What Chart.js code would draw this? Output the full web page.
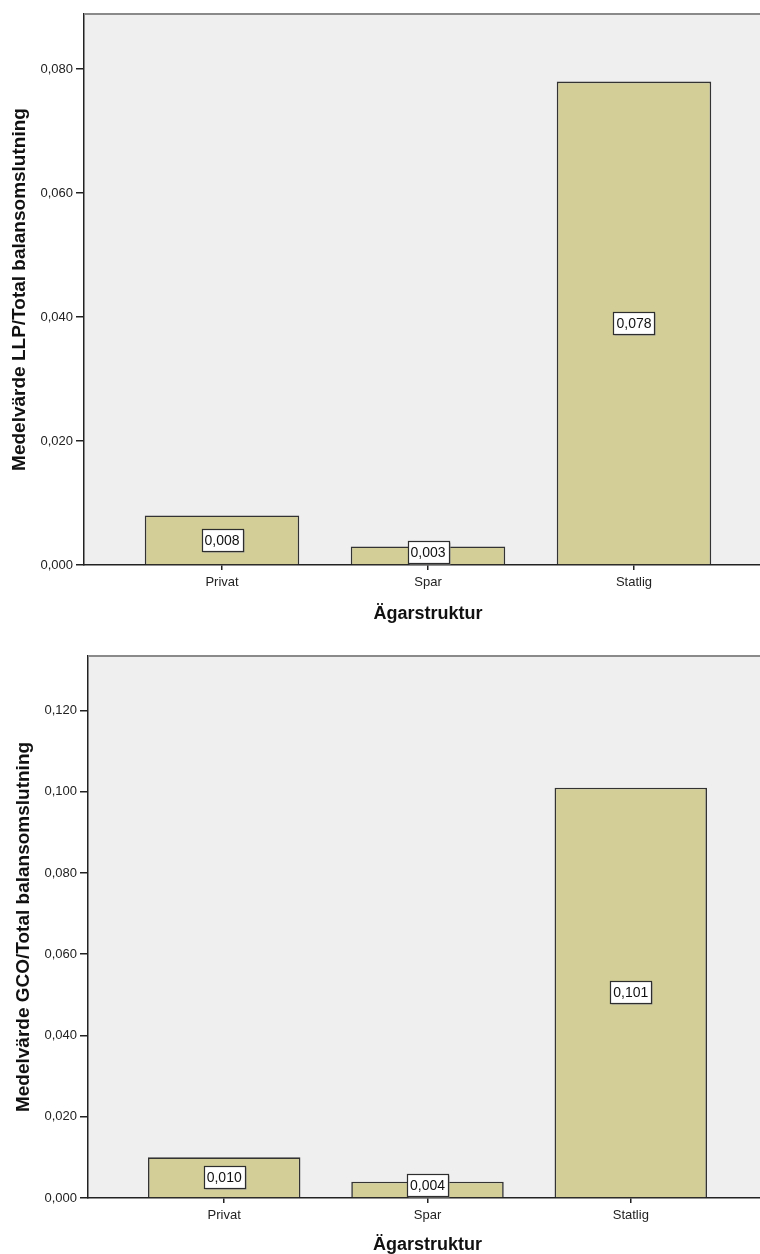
<!DOCTYPE html>
<html lang="sv">
<head>
<meta charset="utf-8">
<script src="https://cdn.jsdelivr.net/npm/chart.js@4/dist/chart.umd.min.js"></script>
<style>
  html, body { margin: 0; padding: 0; background: #fff; width: 760px; height: 1254px; overflow: hidden; }
  .panel { position: absolute; left: 0; width: 760px; overflow: hidden; }
  #p1 { top: 0; height: 630px; }
  #p2 { top: 630px; height: 624px; }
  canvas { display: block; }
</style>
</head>
<body>
<div class="panel" id="p1"><canvas id="llp" width="800" height="630"></canvas></div>
<div class="panel" id="p2"><canvas id="gco" width="800" height="624"></canvas></div>
<script>
// Ownership categories and mean ratios per category
const categories = ['Privat', 'Spar', 'Statlig'];
const llpMeans = [0.008, 0.003, 0.078];
const gcoMeans = [0.010, 0.004, 0.101];

// Value-axis tick positions
const llpTicks = [0, 0.02, 0.04, 0.06, 0.08];
const gcoTicks = [0, 0.02, 0.04, 0.06, 0.08, 0.10, 0.12];

// Axis titles
const xTitle = 'Ägarstruktur';
const llpTitle = 'Medelvärde LLP/Total balansomslutning';
const gcoTitle = 'Medelvärde GCO/Total balansomslutning';

const FONT = "'Liberation Sans', Arial, sans-serif";
const fmt = v => v.toFixed(3).replace('.', ',');

// Grey plot panel with a top frame line
const panelBackground = {
  id: 'panelBackground',
  beforeDraw(chart) {
    const { ctx, chartArea: a } = chart;
    ctx.save();
    ctx.fillStyle = '#efefef';
    ctx.fillRect(a.left, a.top, a.right - a.left, a.bottom - a.top);
    ctx.restore();
  },
  afterDraw(chart) {
    const { ctx, chartArea: a } = chart;
    ctx.save();
    ctx.strokeStyle = '#8a8a8a';
    ctx.lineWidth = 2;
    ctx.beginPath();
    ctx.moveTo(a.left, a.top);
    ctx.lineTo(a.right, a.top);
    ctx.lineTo(a.right, a.bottom);
    ctx.stroke();
    ctx.restore();
  }
};

// Boxed value label in the middle of each bar
const valueBoxes = {
  id: 'valueBoxes',
  afterDatasetsDraw(chart) {
    const { ctx } = chart;
    const ds = chart.data.datasets[0];
    const meta = chart.getDatasetMeta(0);
    ctx.save();
    ctx.font = `14px ${FONT}`;
    ctx.textAlign = 'center';
    ctx.textBaseline = 'middle';
    meta.data.forEach((bar, i) => {
      const text = fmt(ds.data[i].y);
      const w = Math.round(ctx.measureText(text).width) + 6;
      const h = 22;
      let cy = (bar.y + bar.base) / 2;
      if (cy + h / 2 > bar.base - 1) cy = bar.base - 1 - h / 2;
      const x0 = Math.round(bar.x - w / 2) + 0.5;
      const y0 = Math.round(cy - h / 2) + 0.5;
      ctx.fillStyle = '#9a9a9a';
      ctx.fillRect(x0 + 1, y0 + 1, w, h);
      ctx.fillStyle = '#ffffff';
      ctx.fillRect(x0, y0, w, h);
      ctx.strokeStyle = '#2e2e2e';
      ctx.lineWidth = 1.2;
      ctx.strokeRect(x0, y0, w, h);
      ctx.fillStyle = '#111111';
      ctx.fillText(text, bar.x, y0 + h / 2 + 1);
    });
    ctx.restore();
  }
};

function makeChart(id, values, ticks, yMax, yTitle, box) {
  return new Chart(document.getElementById(id), {
    type: 'bar',
    data: {
      datasets: [{
        data: values.map((v, i) => ({ x: i, y: v })),
        backgroundColor: '#d3ce97',
        borderColor: '#333333',
        borderWidth: 1.6,
        borderSkipped: 'start',
        categoryPercentage: 1,
        barPercentage: 0.75
      }]
    },
    options: {
      responsive: false,
      animation: false,
      layout: { padding: { top: box.top, right: box.right, left: 0, bottom: 0 } },
      plugins: { legend: { display: false }, tooltip: { enabled: false } },
      scales: {
        x: {
          type: 'linear',
          min: -0.67,
          max: 2.67,
          bounds: 'data',
          offset: false,
          afterBuildTicks: s => { s.ticks = categories.map((_, i) => ({ value: i })); },
          afterFit: s => { s.height = box.xHeight; },
          grid: { display: true, drawOnChartArea: false, drawTicks: true, tickLength: 5, color: '#222', lineWidth: 1.5, offset: false },
          border: { display: true, color: '#222', width: 1.5 },
          ticks: {
            callback: v => categories[v],
            font: { family: FONT, size: 13 },
            color: '#222',
            padding: 5,
            maxRotation: 0,
            autoSkip: false
          },
          title: {
            display: true,
            text: xTitle,
            color: '#111',
            font: { family: FONT, size: 18, weight: 'bold', lineHeight: 1 },
            padding: { top: 0, bottom: box.xTitlePad }
          }
        },
        y: {
          type: 'linear',
          min: 0,
          max: yMax,
          bounds: 'data',
          afterBuildTicks: s => { s.ticks = ticks.map(v => ({ value: v })); },
          afterFit: s => { s.width = box.left; },
          grid: { display: true, drawOnChartArea: false, drawTicks: true, tickLength: 8, color: '#222', lineWidth: 1.5 },
          border: { display: true, color: '#222', width: 1.5 },
          ticks: {
            callback: v => fmt(v),
            font: { family: FONT, size: 13 },
            color: '#222',
            padding: 3
          },
          title: {
            display: true,
            text: yTitle,
            color: '#111',
            font: { family: FONT, size: 19, weight: 'bold', lineHeight: 1 },
            padding: { top: box.yTitlePad, bottom: 0 }
          }
        }
      }
    },
    plugins: [panelBackground, valueBoxes]
  });
}

makeChart('llp', llpMeans, llpTicks, 0.0889, llpTitle,
  { top: 14, right: 28, xHeight: 65, xTitlePad: 7, left: 84, yTitlePad: 10 });
makeChart('gco', gcoMeans, gcoTicks, 0.1334, gcoTitle,
  { top: 26, right: 33, xHeight: 56, xTitlePad: 0, left: 88, yTitlePad: 14 });
</script>
</body>
</html>
